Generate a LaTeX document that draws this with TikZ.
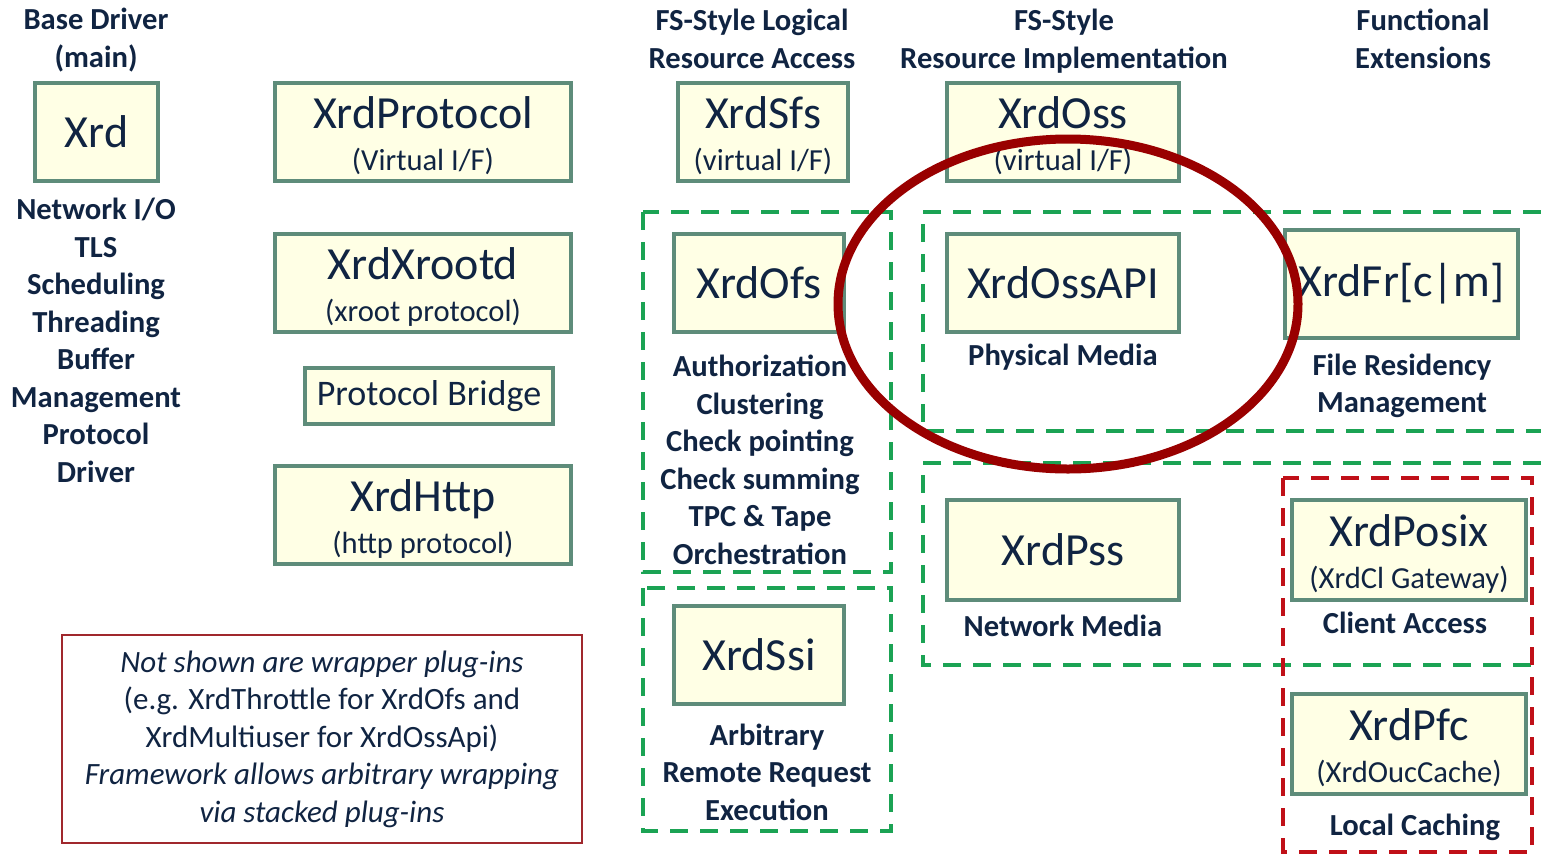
\documentclass[tikz,border=0pt]{standalone}
\usepackage{fontspec}
\setmainfont{Carlito}
\usepackage{xcolor}
\usetikzlibrary{positioning}

\definecolor{boxfill}{RGB}{255,255,229}
\definecolor{boxline}{RGB}{94,140,122}
\definecolor{txtnavy}{RGB}{16,36,66}
\definecolor{grpgreen}{RGB}{27,163,84}
\definecolor{grpred}{RGB}{192,16,24}
\definecolor{ringred}{RGB}{153,0,0}
\definecolor{notered}{RGB}{160,40,45}

\newcommand{\titlefont}{\fontsize{23}{21}\selectfont}
\newcommand{\subfont}{\fontsize{15.3}{21}\selectfont}
\newcommand{\labelfont}{\fontsize{15.3}{18.75}\selectfont\bfseries}
\newcommand{\twoline}[2]{\rule{0pt}{20pt}#1\\{\subfont #2}}

\begin{document}
\begin{tikzpicture}[
      x=0.5pt, y=-0.5pt,
      every node/.style={text=txtnavy},
      module/.style={draw=boxline, line width=2pt, fill=boxfill, inner sep=0pt,
        align=center, font=\titlefont},
      layerlabel/.style={align=center, font=\labelfont, inner sep=0pt},
      greengroup/.style={draw=grpgreen, line width=2pt, dash pattern=on 9pt off 6pt},
      redgroup/.style={draw=grpred, line width=2pt, dash pattern=on 9pt off 6pt}
    ]
    \useasboundingbox (0,0) rectangle (1541,853);

    % groups
    \draw[greengroup] (643,212) rectangle (891,572);
    \draw[greengroup] (643,588) rectangle (891,831);
    \draw[greengroup] (1541,212) -- (923,212) -- (923,431) -- (1541,431);
    \draw[greengroup] (1541,463) -- (923,463) -- (923,665) -- (1541,665);
    \draw[redgroup] (1283,478) rectangle (1532,852);

    % column headers
    \node[layerlabel] (hbase) at (96,40) {Base Driver\\(main)};
    \node[layerlabel] (hlogical) at (752,39) {FS-Style Logical\\Resource Access};
    \node[layerlabel] (himpl) at (1064,41) {FS-Style\\Resource Implementation};
    \node[layerlabel] (hext) at (1423,39) {Functional\\Extensions};

    % base driver and protocols
    \node[module, minimum width=61.5pt, minimum height=49pt] (xrd) at (96.5,132) {Xrd};
    \node[layerlabel] (xrdlbl) at (96,340.5) {Network I/O\\TLS\\Scheduling\\Threading\\Buffer\\Management\\Protocol\\Driver};
    \node[module, minimum width=148pt, minimum height=49pt] (protocol) at (423,132)
      {\twoline{XrdProtocol}{(Virtual I/F)}};
    \node[module, minimum width=148pt, minimum height=49pt] (xrootd) at (423,283)
      {\twoline{XrdXrootd}{(xroot protocol)}};
    \node[module, minimum width=124pt, minimum height=28pt, font=\fontsize{18}{20}\selectfont] (bridge) at (429,396)
      {Protocol Bridge};
    \node[module, minimum width=148pt, minimum height=49pt] (http) at (423,515)
      {\twoline{XrdHttp}{(http protocol)}};

    % logical resource access
    \node[module, minimum width=85pt, minimum height=49pt] (sfs) at (763,132)
      {\twoline{XrdSfs}{(virtual I/F)}};
    \node[module, minimum width=85pt, minimum height=49pt] (ofs) at (759,283) {XrdOfs};
    \node[layerlabel] (ofslbl) at (760,460) {Authorization\\Clustering\\Check pointing\\Check summing\\TPC \& Tape\\Orchestration};
    \node[module, minimum width=85pt, minimum height=49pt] (ssi) at (759,655) {XrdSsi};
    \node[layerlabel] (ssilbl) at (767,772) {Arbitrary\\Remote Request\\Execution};

    % resource implementation
    \node[module, minimum width=116pt, minimum height=49pt] (oss) at (1063,132)
      {\twoline{XrdOss}{(virtual I/F)}};
    \node[module, minimum width=116pt, minimum height=49pt] (ossapi) at (1063,283) {XrdOssAPI};
    \node[layerlabel] (ossapilbl) at (1063,357) {Physical Media};
    \node[module, minimum width=116pt, minimum height=50pt] (pss) at (1063,550) {XrdPss};
    \node[layerlabel] (psslbl) at (1063,626) {Network Media};

    % functional extensions
    \node[module, minimum width=116.5pt, minimum height=54pt] (frm) at (1401.5,284) {XrdFr[c|m]};
    \node[layerlabel] (frmlbl) at (1402,386) {File Residency\\Management};
    \node[module, minimum width=117pt, minimum height=50pt] (posix) at (1409,550)
      {\twoline{XrdPosix}{(XrdCl Gateway)}};
    \node[layerlabel] (posixlbl) at (1405,623) {Client Access};
    \node[module, minimum width=117pt, minimum height=50pt] (pfc) at (1409,744)
      {\twoline{XrdPfc}{(XrdOucCache)}};
    \node[layerlabel] (pfclbl) at (1415,827) {Local Caching};

    % note
    \node[draw=notered, line width=1pt, minimum width=260pt, minimum height=104pt, align=center,
      font=\fontsize{15.5}{18.75}\selectfont] (note) at (322,739)
      {\itshape Not shown are wrapper plug-ins\\(e.g. XrdThrottle for XrdOfs and\\XrdMultiuser for XrdOssApi)\\
       \itshape Framework allows arbitrary wrapping\\\itshape via stacked plug-ins};

    % highlight
    \draw[ringred, line width=4.5pt] (1068,304) ellipse [x radius=115pt, y radius=82.5pt];
  \end{tikzpicture}
\end{document}
